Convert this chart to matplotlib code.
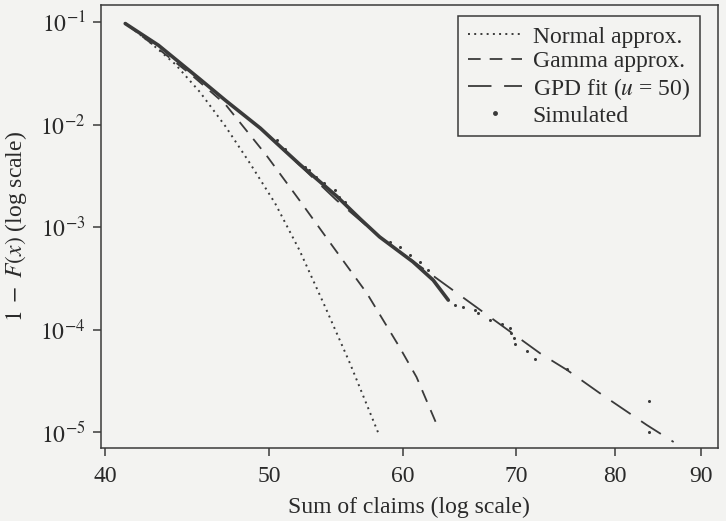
import matplotlib
matplotlib.use("Agg")
import matplotlib.pyplot as plt
from matplotlib.ticker import FixedLocator, FixedFormatter, NullLocator

# values
normal_x = [41.1, 41.4, 42.5, 44.0, 45.5, 47.1, 48.7, 50.4, 52.1, 53.9, 55.8, 58.0]
normal_y = [0.0978, 0.0894, 0.0638, 0.0389, 0.0208, 0.00967, 0.00421, 0.00171,
            0.000596, 0.000173, 4.71e-05, 9.8e-06]

gamma_x = [41.1, 43.1, 45.0, 47.1, 49.8, 52.1, 54.5, 57.1, 59.7, 61.1, 63.0]
gamma_y = [0.0978, 0.0533, 0.0304, 0.0158, 0.00504, 0.00183, 0.000653,
           0.000227, 6.75e-05, 3.44e-05, 1.05e-05]

gpd_x = [50.0, 54.8, 58.1, 63.4, 72.3, 75.0, 78.4, 83.6, 86.7]
gpd_y = [0.00772, 0.00183, 0.000804, 0.000282, 5.86e-05, 4.03e-05, 2.4e-05,
         1.17e-05, 8.0e-06]

# simulated: dense body (looks solid) + sparse points in the tail
sim_body_x = [41.1, 43.0, 45.5, 47.1, 49.4, 50.5, 52.1, 54.8, 56.6, 58.1, 60.8, 62.5, 63.8]
sim_body_y = [0.0971, 0.0596, 0.0278, 0.0173, 0.00924, 0.0066, 0.00412, 0.00201,
              0.0012, 0.000804, 0.000459, 0.000304, 0.000194]
sim_pts_x = [50.5, 51.1, 52.5, 52.8, 53.3, 53.9, 54.7, 55.0, 55.4, 58.9, 59.7, 60.6,
             61.4, 62.1, 64.4, 65.1, 66.2, 66.4, 67.5, 68.6, 69.4, 69.5, 69.8, 69.9,
             71.0, 71.8, 75.0, 83.8, 83.8]
sim_pts_y = [0.00706, 0.00577, 0.00388, 0.0036, 0.0031, 0.00267, 0.0023, 0.00198,
             0.00177, 0.000719, 0.000642, 0.000533, 0.000456, 0.000381, 0.000173,
             0.000165, 0.000155, 0.000144, 0.000124, 0.000113, 0.000103, 9.18e-05,
             8.21e-05, 7.22e-05, 6.21e-05, 5.12e-05, 4.12e-05, 2.02e-05, 1.01e-05]

x_ticks = [40, 50, 60, 70, 80, 90]
y_ticks = [1e-1, 1e-2, 1e-3, 1e-4, 1e-5]
y_tick_labels = [r'$10^{-1}$', r'$10^{-2}$', r'$10^{-3}$', r'$10^{-4}$', r'$10^{-5}$']

plt.rcParams['font.family'] = ['Liberation Serif', 'DejaVu Serif']
plt.rcParams['mathtext.fontset'] = 'stix'

ink = '#3a3a3a'
txt = '#2a2a2a'
paper = '#f3f3f1'

fig = plt.figure(figsize=(7.26, 5.21), dpi=100, facecolor=paper)
ax = fig.add_axes([0.1387, 0.140, 0.8503, 0.850])
ax.set_facecolor(paper)

ax.plot(normal_x, normal_y, color=ink, lw=1.4, ls=(0, (1, 2.2)), label='Normal approx.')
ax.plot(gamma_x, gamma_y, color=ink, lw=1.3, ls=(0, (7, 5)), label='Gamma approx.')
ax.plot(gpd_x, gpd_y, color=ink, lw=1.3, ls=(0, (13, 7)), label='GPD fit ($u$ = 50)')
ax.plot(sim_body_x, sim_body_y, color=ink, lw=2.6, solid_capstyle='round',
        solid_joinstyle='round')
ax.plot(sim_pts_x, sim_pts_y, ls='none', marker='o', ms=2.2, color=ink, mew=0,
        label='Simulated')

ax.set_xscale('log')
ax.set_yscale('log')
ax.set_xlim(39.75, 92.1)
ax.set_ylim(6.98e-6, 0.1466)

ax.xaxis.set_major_locator(FixedLocator(x_ticks))
ax.xaxis.set_major_formatter(FixedFormatter([str(t) for t in x_ticks]))
ax.xaxis.set_minor_locator(NullLocator())
ax.yaxis.set_major_locator(FixedLocator(y_ticks))
ax.yaxis.set_major_formatter(FixedFormatter(y_tick_labels))
ax.yaxis.set_minor_locator(NullLocator())

ax.tick_params(axis='both', direction='out', length=6, width=1.1, color=ink,
               labelcolor=txt, labelsize=17)
ax.tick_params(axis='x', pad=7)
ax.tick_params(axis='y', pad=5)
for s in ax.spines.values():
    s.set_color(ink)
    s.set_linewidth(1.1)

ax.set_xlabel('Sum of claims (log scale)', fontsize=17, color=txt, labelpad=7)
ax.set_ylabel(r'$1\;-\;F(x)$ (log scale)', fontsize=17, color=txt, labelpad=8)

leg = ax.legend(loc='upper right', bbox_to_anchor=(0.9708, 0.9752), borderaxespad=0,
                fontsize=17, frameon=True, fancybox=False, handlelength=2.3,
                handletextpad=0.45, labelspacing=0.14, borderpad=0.42, markerscale=1.6)
leg.get_frame().set_edgecolor(ink)
leg.get_frame().set_linewidth(1.1)
leg.get_frame().set_facecolor(paper)
leg.get_frame().set_alpha(1)
for t in leg.get_texts():
    t.set_color(txt)

fig.savefig('out.png', dpi=100, facecolor=paper)
